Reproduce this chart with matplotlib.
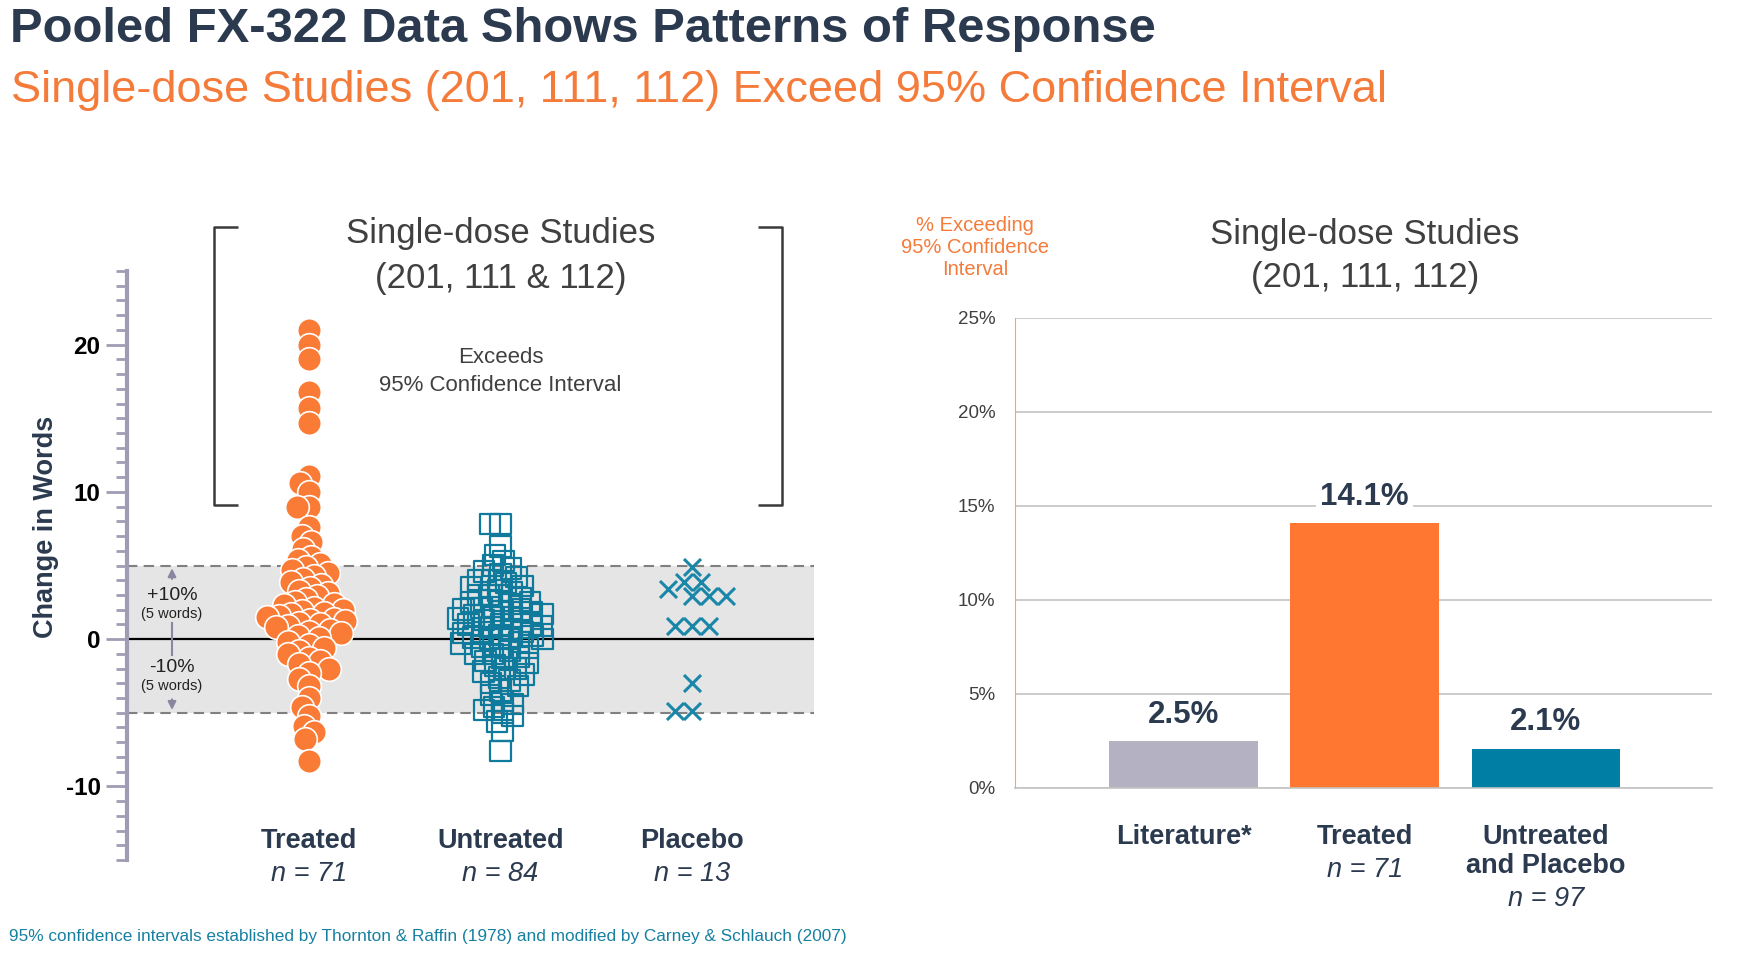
import numpy as np
import matplotlib
matplotlib.use('Agg')
import matplotlib.pyplot as plt
from matplotlib.lines import Line2D

plt.rcParams['font.family'] = ['Liberation Sans', 'DejaVu Sans']
plt.rcParams['axes.unicode_minus'] = False

# change in words per subject
treated = [21.0, 20.0, 19.0, 16.8, 15.7, 14.7, 11.1, 10.6, 10.0, 9.0, 9.0, 7.6,
           7.0, 6.6, 6.1, 5.6,
           5.4, 5.1, 4.9, 4.7, 4.5, 4.3, 4.1, 3.9, 3.7,
           3.5, 3.3, 3.1, 2.9, 2.7, 2.5, 2.4, 2.3, 2.1, 2.0, 1.9, 1.8, 1.7, 1.6, 1.5,
           1.4, 1.3, 1.2, 1.1, 1.0, 0.9, 0.8, 0.6, 0.5, 0.4, 0.2, 0.1,
           -0.2, -0.4, -0.6, -0.8, -1.0, -1.3, -1.5, -1.7, -2.0, -2.3, -2.7, -3.2,
           -4.0, -4.6, -5.2,
           -5.9, -6.3, -6.8, -8.3]
untreated = [7.8, 7.8, 6.3, 5.7, 5.3, 5.0, 4.8, 4.6,
             4.4, 4.2, 4.0, 4.0, 3.8, 3.6, 3.5, 3.3, 3.2, 3.0, 3.0,
             2.8, 2.6, 2.5, 2.5, 2.4, 2.2, 2.1, 2.0, 2.0, 1.9, 1.8, 1.7, 1.6, 1.5, 1.5,
             1.4, 1.3, 1.2, 1.0, 1.0, 1.0, 0.9, 0.8, 0.7, 0.5, 0.5, 0.4, 0.3, 0.2, 0.1,
             0.0, 0.0, 0.0,
             -0.2, -0.3, -0.5, -0.5, -0.6, -0.8, -1.0, -1.0, -1.2, -1.3, -1.5, -1.6,
             -1.8, -2.0, -2.0,
             -2.2, -2.4, -2.6, -2.8, -3.0, -3.2, -3.5, -3.8,
             -4.2, -4.4, -4.6, -4.8, -5.0, -5.2, -5.6, -6.2, -7.6]
placebo = [4.9, 3.4, 3.9, 3.9, 2.9, 2.9, 2.9, 0.9, 0.9, 0.9, -3.0, -4.9, -4.9]

group_names = ['Treated', 'Untreated', 'Placebo']
group_n = [71, 84, 13]

bar_names = ['Literature*', 'Treated', 'Untreated\nand Placebo']
bar_n = ['', 'n = 71', 'n = 97']
bar_values = [2.5, 14.1, 2.1]

NAVY = '#2b3a4f'
ORANGE = '#f97b36'
TEAL = '#0f7a9c'
AXIS_PURPLE = '#a09cb4'
DARK_TEXT = '#404040'


def swarm_offsets(values, px_per_unit, min_dist):
    # simple beeswarm: place each point as close to the centre as it can go
    # without coming closer than min_dist (pixels) to points already placed
    values = np.asarray(values, dtype=float)
    ys = values * px_per_unit
    offsets = np.zeros(len(values))
    placed = []
    for i in np.argsort(-values):
        y = ys[i]
        near = [(px, py) for px, py in placed if abs(py - y) < min_dist]
        cands = [0.0]
        for px, py in near:
            dx = np.sqrt(min_dist ** 2 - (py - y) ** 2)
            cands += [px - dx, px + dx]
        cands.sort(key=lambda c: (abs(c), c))
        for c in cands:
            if all((c - px) ** 2 + (y - py) ** 2 >= min_dist ** 2 - 1e-6 for px, py in near):
                offsets[i] = c
                break
        placed.append((offsets[i], y))
    return offsets


fig = plt.figure(figsize=(17.37, 9.64), dpi=100)
W, H = 1737, 964

fig.text(0.0058, 0.969, 'Pooled FX-322 Data Shows Patterns of Response', fontsize=35.3,
         fontweight='bold', color=NAVY, va='center', ha='left')
fig.text(0.0063, 0.906, 'Single-dose Studies (201, 111, 112) Exceed 95% Confidence Interval',
         fontsize=32.5, color='#f47b3a', va='center', ha='left')
fig.text(0.005, 0.029, '95% confidence intervals established by Thornton & Raffin (1978) '
         'and modified by Carney & Schlauch (2007)', fontsize=12.4, color='#1780a1',
         va='center', ha='left')

# ---------------- left: swarm plot ----------------
ax = fig.add_axes([127 / W, 1 - 860 / H, (814 - 127) / W, (860 - 271) / H])
ax.set_ylim(-15, 25)
ax.set_xlim(-0.95, 2.637)
pos = ax.get_position()
ppu_y = pos.height * H / 40
ppu_x = pos.width * W / (2.637 + 0.95)

ax.axhspan(-5, 5, color='#e5e5e5', zorder=0, lw=0)
for yv in (-5, 5):
    ax.axhline(yv, color='#808080', lw=1.5, ls=(0, (5, 3)), zorder=1)
ax.axhline(0, color='black', lw=1.6, zorder=1)

off_t = swarm_offsets(treated, ppu_y, 11.5) / ppu_x
ax.scatter(0 + off_t, treated, s=290, color=ORANGE, edgecolors='white', linewidths=1.2,
           zorder=3)
off_u = swarm_offsets(untreated, ppu_y, 10.5) / ppu_x
ax.scatter(1 + off_u, untreated, s=215, marker='s', facecolors='none', edgecolors=TEAL,
           linewidths=1.6, zorder=3)
off_p = swarm_offsets(placebo, ppu_y, 17) / ppu_x
ax.scatter(2 + off_p, placebo, s=150, marker='x', color='#1a86a8', linewidths=2.2, zorder=3)

for spine in ('top', 'right', 'bottom'):
    ax.spines[spine].set_visible(False)
ax.spines['left'].set_color(AXIS_PURPLE)
ax.spines['left'].set_linewidth(3)
ax.set_yticks([-10, 0, 10, 20])
ax.set_yticks(np.arange(-15, 26, 1), minor=True)
ax.tick_params(axis='y', which='major', length=15, width=2, color=AXIS_PURPLE,
               labelsize=17.5, labelcolor='black', pad=4)
ax.tick_params(axis='y', which='minor', length=8, width=2, color=AXIS_PURPLE)
for lab in ax.get_yticklabels():
    lab.set_fontweight('bold')
ax.set_xticks([])
ax.set_ylabel('Change in Words', fontsize=19.5, fontweight='bold', color=NAVY)
ax.yaxis.set_label_coords(-0.099, 0.565)

for i, (name, n) in enumerate(zip(group_names, group_n)):
    ax.text(i, -13.7, name, ha='center', va='center', fontsize=19.5, fontweight='bold',
            color=NAVY, clip_on=False)
    ax.text(i, -15.95, f'n = {n}', ha='center', va='center', fontsize=19.5, style='italic',
            color=NAVY, clip_on=False)

# +/-10% markers
ax.text(-0.715, 2.93, '+10%', ha='center', va='center', fontsize=14, color='#222222')
ax.text(-0.715, 1.73, '(5 words)', ha='center', va='center', fontsize=10.5, color='#222222')
ax.text(-0.715, -1.96, '-10%', ha='center', va='center', fontsize=14, color='#222222')
ax.text(-0.715, -3.16, '(5 words)', ha='center', va='center', fontsize=10.5, color='#222222')
arrow_kw = dict(arrowstyle='-|>', color='#8a86a0', lw=1.5, mutation_scale=12)
ax.annotate('', xy=(-0.715, 5.0), xytext=(-0.715, 3.9), arrowprops=arrow_kw)
ax.annotate('', xy=(-0.715, -5.0), xytext=(-0.715, -3.9), arrowprops=arrow_kw)
ax.plot([-0.715, -0.715], [1.1, -1.1], color='#8a86a0', lw=1.5)

# bracket for points above the confidence interval
br = dict(color='#3a3a3a', lw=1.8, clip_on=False, solid_capstyle='butt')
ax.add_line(Line2D([-0.371, -0.496, -0.496, -0.371], [28.0, 28.0, 9.1, 9.1], **br))
ax.add_line(Line2D([2.345, 2.470, 2.470, 2.345], [28.0, 28.0, 9.1, 9.1], **br))
ax.text(1.0, 26.0, 'Single-dose Studies\n(201, 111 & 112)', ha='center', va='center',
        fontsize=25, color=DARK_TEXT, linespacing=1.45, clip_on=False)
ax.text(1.0, 18.15, 'Exceeds\n95% Confidence Interval', ha='center', va='center',
        fontsize=16, color=DARK_TEXT, linespacing=1.45)

# ---------------- right: bar chart ----------------
bx = fig.add_axes([1015 / W, 1 - 788 / H, (1712 - 1015) / W, (788 - 318) / H])
bar_colors = ['#b3b1c2', '#ff7730', '#007ea3']
xs = np.arange(len(bar_values))
bx.bar(xs, bar_values, width=0.82, color=bar_colors, zorder=2)
bx.set_xlim(-0.93, 2.917)
bx.set_ylim(0, 25)
bx.set_yticks(np.arange(0, 26, 5))
bx.set_yticklabels([f'{v}%' for v in range(0, 26, 5)])
bx.yaxis.grid(True, color='#c4c4c4', lw=1.2, zorder=0)
bx.set_axisbelow(True)
for spine in ('top', 'right'):
    bx.spines[spine].set_visible(False)
bx.spines['left'].set_color('#f4a46a')
bx.spines['bottom'].set_color('#c4c4c4')
bx.spines['bottom'].set_linewidth(1.2)
bx.tick_params(axis='y', length=0, labelsize=13.5, labelcolor=DARK_TEXT, pad=14)
bx.set_xticks([])

for x, v in zip(xs, bar_values):
    bx.annotate(f'{v}%', (x, v), xytext=(0, 8), textcoords='offset points', ha='center',
                va='bottom', fontsize=22.5, fontweight='bold', color=NAVY,
                bbox=dict(fc='white', ec='none', pad=3))

for x, name, n in zip(xs, bar_names, bar_n):
    lines = name.split('\n')
    y = -2.63
    for k, line in enumerate(lines):
        bx.text(x, y, line, ha='center', va='center', fontsize=19.5, fontweight='bold',
                color=NAVY, clip_on=False)
        if k < len(lines) - 1:
            y -= 1.53
    if n:
        bx.text(x, y - 1.75, n, ha='center', va='center', fontsize=19.5, style='italic',
                color=NAVY, clip_on=False)

bx.text(-1.15, 28.75, '% Exceeding\n95% Confidence\nInterval', ha='center', va='center',
        fontsize=14.5, color='#f47b3a', linespacing=1.22, clip_on=False)
bx.text(1.0, 28.3, 'Single-dose Studies\n(201, 111, 112)', ha='center', va='center',
        fontsize=25, color=DARK_TEXT, linespacing=1.4, clip_on=False)

fig.savefig('out.png', dpi=100)
